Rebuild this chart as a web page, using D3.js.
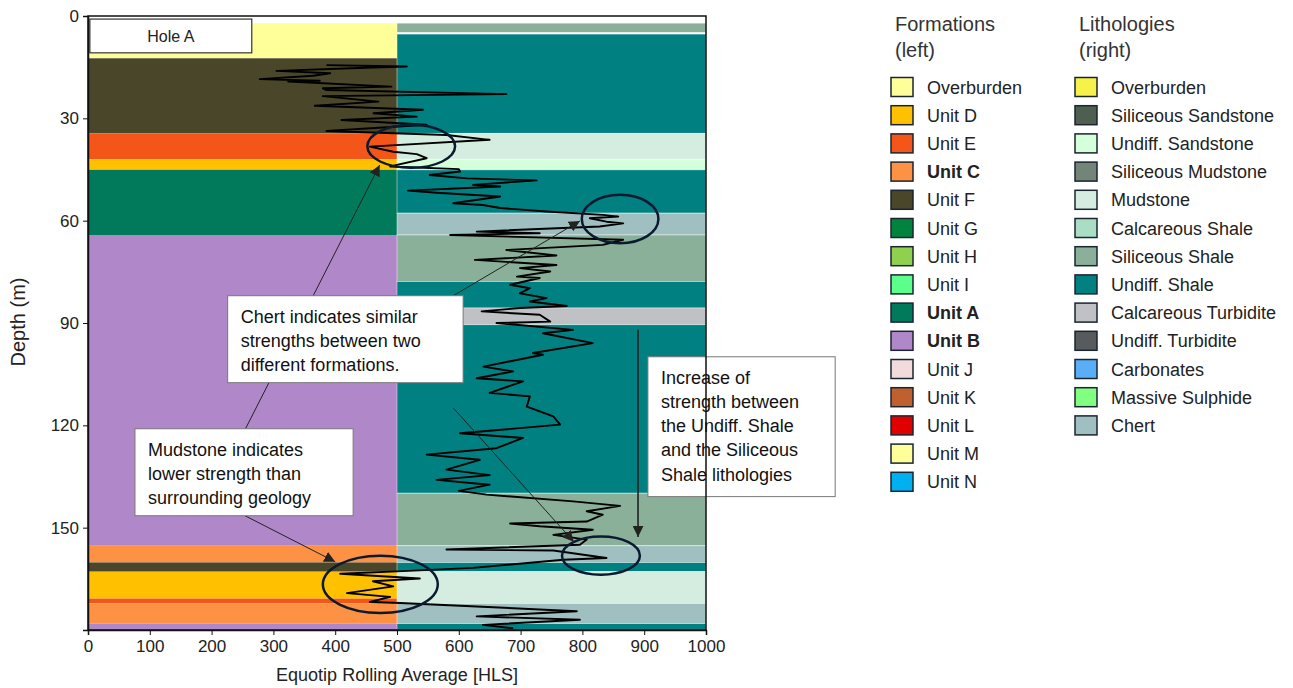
<!DOCTYPE html>
<html>
<head>
<meta charset="utf-8">
<script src="https://cdn.jsdelivr.net/npm/d3@7"></script>
<style>
  body { margin: 0; background: #fff; }
  text { font-family: "Liberation Sans", Arial, sans-serif; }
</style>
</head>
<body>
<svg id="chart"></svg>
<script>
var width = 1293, height = 688;

// legend categories
var formationNames = ["Overburden", "Unit D", "Unit E", "Unit C", "Unit F", "Unit G", "Unit H", "Unit I",
  "Unit A", "Unit B", "Unit J", "Unit K", "Unit L", "Unit M", "Unit N"];
var formationColours = ["#ffff99", "#ffc000", "#f4561a", "#fd9244", "#4a462a", "#00843d", "#8fd14f", "#5cff8c",
  "#007a5a", "#b088ca", "#f2dcdb", "#c0602f", "#e00000", "#ffff99", "#00b0f0"];
var boldUnits = ["Unit C", "Unit A", "Unit B"];

var lithologyNames = ["Overburden", "Siliceous Sandstone", "Undiff. Sandstone", "Siliceous Mudstone", "Mudstone",
  "Calcareous Shale", "Siliceous Shale", "Undiff. Shale", "Calcareous Turbidite", "Undiff. Turbidite",
  "Carbonates", "Massive Sulphide", "Chert"];
var lithologyColours = ["#f7f24a", "#4e5f4f", "#d5ffda", "#738478", "#d4ede0", "#a9dec5", "#8ab09a", "#008080",
  "#bfc1c5", "#585b5e", "#5aaef7", "#80ff80", "#a0bfc1"];

// formation intervals (left column): [unit, top, base] in m
var formations = [
  ["Overburden", 2.1, 12.4], ["Unit F", 12.4, 34.4], ["Unit E", 34.4, 42.0], ["Unit D", 42.0, 45.1],
  ["Unit A", 45.1, 64.2], ["Unit B", 64.2, 155.3], ["Unit C", 155.3, 160.2], ["Unit F", 160.2, 162.9],
  ["Unit D", 162.9, 170.8], ["Unit E", 170.8, 172.2], ["Unit C", 172.2, 178.1], ["Unit B", 178.1, 180]
];

// lithology intervals (right column)
var lithologies = [
  ["Siliceous Shale", 2.1, 4.8], ["Undiff. Shale", 5.3, 34.4], ["Mudstone", 34.4, 42.0],
  ["Undiff. Sandstone", 42.0, 45.1], ["Undiff. Shale", 45.1, 57.8], ["Chert", 57.8, 64.2],
  ["Siliceous Shale", 64.2, 77.8], ["Undiff. Shale", 77.8, 85.6], ["Calcareous Turbidite", 85.6, 90.5],
  ["Undiff. Shale", 90.5, 139.9], ["Siliceous Shale", 139.9, 155.3], ["Chert", 155.3, 160.2],
  ["Undiff. Shale", 160.2, 162.9], ["Mudstone", 162.9, 172.2], ["Chert", 172.2, 178.1],
  ["Undiff. Shale", 178.1, 180]
];

// Equotip rolling average trace
var depth = [14.4, 14.8, 15.1, 16.1, 16.8, 17.5, 18.5, 19.0, 19.2, 20.7, 21.2, 21.7, 22.9, 23.5, 25.1, 26.3,
  27.5, 28.5, 29.5, 30.5, 31.9, 33.7, 34.9, 36.3, 38.3, 39.8, 40.5, 41.7, 44.1, 44.9, 45.6, 46.6, 47.6, 48.2,
  49.5, 50.0, 51.2, 51.8, 52.9, 54.9, 55.4, 56.3, 57.3, 58.3, 58.8, 59.3, 60.3, 60.8, 61.7, 63.2, 63.7, 64.2,
  65.6, 67.1, 68.6, 70.2, 71.5, 73.0, 73.9, 74.9, 76.4, 76.8, 78.8, 79.8, 81.3, 82.7, 83.7, 85.0, 85.6, 86.6,
  87.6, 89.6, 90.0, 92.0, 93.0, 95.9, 98.8, 99.3, 102.8, 104.2, 106.2, 107.1, 110.5, 111.5, 114.5, 117.4,
  119.8, 122.3, 123.7, 126.7, 128.6, 130.1, 133.0, 134.6, 136.0, 137.4, 139.2, 140.3, 142.3, 143.6, 145.2,
  146.2, 148.2, 148.8, 149.6, 150.6, 152.1, 153.5, 155.0, 156.4, 156.7, 158.9, 159.4, 161.8, 162.8, 163.5,
  164.9, 165.7, 167.2, 169.2, 170.3, 171.8, 172.1, 173.1, 174.5, 176.0, 177.0, 178.5, 179.5];
var hls = [386, 516, 461, 305, 392, 364, 278, 375, 324, 491, 380, 386, 677, 380, 470, 367,
  542, 462, 532, 410, 548, 386, 580, 650, 456, 494, 532, 548, 489, 600, 602, 553, 613, 726,
  623, 667, 518, 564, 667, 591, 639, 667, 742, 833, 858, 812, 839, 866, 828, 629, 731, 586,
  866, 833, 677, 758, 626, 758, 699, 748, 694, 731, 683, 715, 699, 742, 715, 775, 699, 637,
  731, 748, 661, 785, 736, 817, 720, 736, 640, 688, 629, 704, 650, 715, 710, 753,
  764, 602, 704, 661, 548, 634, 580, 650, 564, 650, 600, 645, 785, 861, 807,
  833, 807, 683, 731, 817, 753, 807, 796, 580, 753, 839, 769, 623, 500, 408,
  537, 461, 494, 419, 489, 456, 505, 629, 791, 629, 796, 639, 688];

var xTicks = [0, 100, 200, 300, 400, 500, 600, 700, 800, 900, 1000];
var yTicks = [0, 30, 60, 90, 120, 150];

// annotations in data units: [hls, depth]
var ellipses = [[523, 38.2, 71, 6.3], [861, 59.5, 62, 7.1], [830, 158.2, 63, 5.6], [473, 166.6, 93, 8.4]];
var arrows = [
  [[254, 121.3], [472, 43.7]], [[254, 146.5], [400, 160.0]],
  [[591, 82.0], [796, 60.1]], [[591, 114.9], [786, 154.1]], [[890, 92.0], [890, 152.7]]
];
var notes = [
  { x0: 226, x1: 607, d0: 82.0, d1: 107.5, lines: ["Chert indicates similar", "strengths between two", "different formations."] },
  { x0: 76, x1: 429, d0: 121.0, d1: 146.5, lines: ["Mudstone indicates", "lower strength than", "surrounding geology"] },
  { x0: 906, x1: 1209, d0: 99.9, d1: 140.9, lines: ["Increase of", "strength between", "the Undiff. Shale", "and the Siliceous", "Shale lithologies"] }
];

var svg = d3.select("#chart").attr("width", width).attr("height", height);

var x = d3.scaleLinear().domain([0, 1000]).range([88, 706]);
var y = d3.scaleLinear().domain([0, 180]).range([16, 630]);
var fColour = d3.scaleOrdinal().domain(formationNames).range(formationColours);
var lColour = d3.scaleOrdinal().domain(lithologyNames).range(lithologyColours);

// left column
svg.append("g").selectAll("rect")
  .data(formations)
  .enter().append("rect")
  .attr("x", x(0))
  .attr("width", x(500) - x(0))
  .attr("y", function (d) { return y(d[1]); })
  .attr("height", function (d) { return y(d[2]) - y(d[1]); })
  .attr("fill", function (d) { return fColour(d[0]); });

// right column
svg.append("g").selectAll("rect")
  .data(lithologies)
  .enter().append("rect")
  .attr("x", x(500))
  .attr("width", x(1000) - x(500))
  .attr("y", function (d) { return y(d[1]); })
  .attr("height", function (d) { return y(d[2]) - y(d[1]); })
  .attr("fill", function (d) { return lColour(d[0]); })
  .attr("stroke", "rgba(255,255,255,0.55)")
  .attr("stroke-width", 0.8);

// hole label
svg.append("rect")
  .attr("x", x(3)).attr("y", y(0.9))
  .attr("width", x(265) - x(3)).attr("height", y(10.8) - y(0.9))
  .attr("fill", "#fff").attr("stroke", "#333").attr("stroke-width", 1.2);
svg.append("text")
  .attr("x", (x(3) + x(265)) / 2).attr("y", (y(0.9) + y(10.8)) / 2 + 6)
  .attr("text-anchor", "middle").attr("font-size", 16).attr("fill", "#222")
  .text("Hole A");

// trace
var line = d3.line()
  .x(function (d) { return x(d[1]); })
  .y(function (d) { return y(d[0]); });
svg.append("path")
  .datum(d3.zip(depth, hls))
  .attr("d", line)
  .attr("fill", "none")
  .attr("stroke", "#000")
  .attr("stroke-width", 1.9)
  .attr("stroke-linejoin", "round");

// ellipses
svg.append("g").selectAll("ellipse")
  .data(ellipses)
  .enter().append("ellipse")
  .attr("cx", function (d) { return x(d[0]); })
  .attr("cy", function (d) { return y(d[1]); })
  .attr("rx", function (d) { return x(d[2]) - x(0); })
  .attr("ry", function (d) { return y(d[3]) - y(0); })
  .attr("fill", "none")
  .attr("stroke", "#0c1a30")
  .attr("stroke-width", 2.5);

// arrow heads
var defs = svg.append("defs");
defs.append("marker")
  .attr("id", "head").attr("viewBox", "0 0 10 10")
  .attr("refX", 10).attr("refY", 5)
  .attr("markerWidth", 11).attr("markerHeight", 11)
  .attr("markerUnits", "userSpaceOnUse")
  .attr("orient", "auto")
  .append("path").attr("d", "M0,0L10,5L0,10Z").attr("fill", "#222");

svg.append("g").selectAll("line")
  .data(arrows)
  .enter().append("line")
  .attr("x1", function (d) { return x(d[0][0]); })
  .attr("y1", function (d) { return y(d[0][1]); })
  .attr("x2", function (d) { return x(d[1][0]); })
  .attr("y2", function (d) { return y(d[1][1]); })
  .attr("stroke", "#222")
  .attr("stroke-width", function (d, i) { return i == 4 ? 1.6 : 1; })
  .attr("marker-end", "url(#head)");

// note boxes
var note = svg.append("g").selectAll("g")
  .data(notes)
  .enter().append("g");
note.append("rect")
  .attr("x", function (d) { return x(d.x0); })
  .attr("y", function (d) { return y(d.d0); })
  .attr("width", function (d) { return x(d.x1) - x(d.x0); })
  .attr("height", function (d) { return y(d.d1) - y(d.d0); })
  .attr("fill", "#fff")
  .attr("stroke", "#777")
  .attr("stroke-width", 1);
note.each(function (d) {
  var t = d3.select(this).append("text")
    .attr("font-size", 18).attr("fill", "#111");
  d.lines.forEach(function (s, i) {
    t.append("tspan")
      .attr("x", x(d.x0) + 13)
      .attr("y", y(d.d0) + 27 + i * 24.2)
      .text(s);
  });
});

// frame
svg.append("rect")
  .attr("x", x(0)).attr("y", y(0))
  .attr("width", x(1000) - x(0)).attr("height", y(180) - y(0))
  .attr("fill", "none").attr("stroke", "#111").attr("stroke-width", 1.5);

// axes
var yAxis = svg.append("g")
  .attr("transform", "translate(" + x(0) + ",0)")
  .call(d3.axisLeft(y).tickValues(yTicks).tickSize(5).tickPadding(4));
var xAxis = svg.append("g")
  .attr("transform", "translate(0," + y(180) + ")")
  .call(d3.axisBottom(x).tickValues(xTicks).tickFormat(d3.format("d")).tickSize(5).tickPadding(5));
[yAxis, xAxis].forEach(function (a) {
  a.selectAll("text").attr("font-size", 17).attr("fill", "#222")
    .attr("font-family", "Liberation Sans, Arial, sans-serif");
  a.select(".domain").attr("stroke", "#111").attr("stroke-width", 1.5);
  a.selectAll(".tick line").attr("stroke", "#111");
});

svg.append("text")
  .attr("transform", "translate(25," + 322 + ") rotate(-90)")
  .attr("text-anchor", "middle").attr("font-size", 20).attr("fill", "#222")
  .text("Depth (m)");
svg.append("text")
  .attr("x", (x(0) + x(1000)) / 2).attr("y", 681)
  .attr("text-anchor", "middle").attr("font-size", 18).attr("fill", "#222")
  .text("Equotip Rolling Average [HLS]");

// legends
function legend(left, title, names, colour) {
  var g = svg.append("g");
  g.append("text").attr("x", left + 4).attr("y", 31)
    .attr("font-size", 20).attr("fill", "#333").text(title[0]);
  g.append("text").attr("x", left + 4).attr("y", 57)
    .attr("font-size", 20).attr("fill", "#333").text(title[1]);
  var row = g.selectAll("g.row")
    .data(names)
    .enter().append("g")
    .attr("class", "row")
    .attr("transform", function (d, i) { return "translate(" + left + "," + (77.5 + i * 28.2) + ")"; });
  row.append("rect")
    .attr("width", 22).attr("height", 19)
    .attr("fill", function (d) { return colour(d); })
    .attr("stroke", "#1a2530").attr("stroke-width", 1.5);
  row.append("text")
    .attr("x", 36).attr("y", 16)
    .attr("font-size", 18).attr("fill", "#222")
    .attr("font-weight", function (d) { return boldUnits.indexOf(d) >= 0 && colour === fColour ? "bold" : "normal"; })
    .text(function (d) { return d; });
}
legend(891, ["Formations", "(left)"], formationNames, fColour);
legend(1075, ["Lithologies", "(right)"], lithologyNames, lColour);
</script>
</body>
</html>
